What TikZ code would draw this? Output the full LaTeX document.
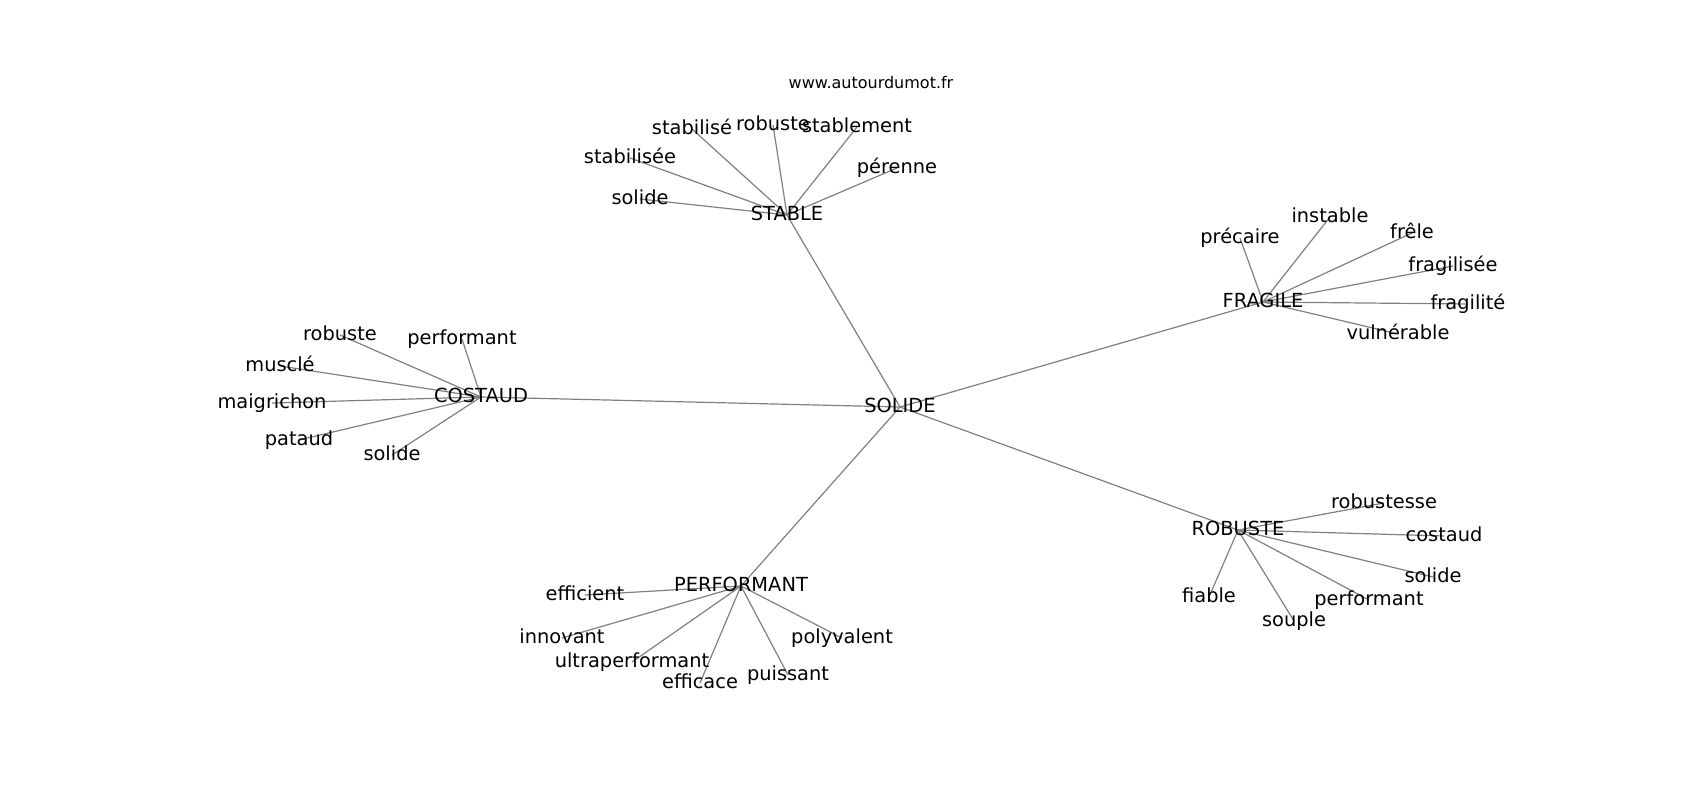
\documentclass[tikz,border=0pt]{standalone}
\usepackage{fontspec}
\setmainfont{DejaVu Sans}
\usetikzlibrary{backgrounds}
\tikzset{
  lbl/.style={inner sep=0pt, anchor=center, text height=1.4em, text depth=0.22em, font=\fontsize{19.4}{23}\selectfont, text=black},
  ttl/.style={inner sep=0pt, anchor=center, font=\fontsize{16}{19}\selectfont, text=black},
  edge/.style={draw=black!50, line width=1.2pt}
}
\begin{document}
\begin{tikzpicture}[x=1pt,y=-1pt]
\useasboundingbox (0,0) rectangle (1700,800);
\node[ttl] (title) at (871,83) {www.autourdumot.fr};
% hubs
\node[lbl] (SOLIDE) at (900,407) {SOLIDE};
\node[lbl] (STABLE) at (787,215) {STABLE};
\node[lbl] (FRAGILE) at (1263,302) {FRAGILE};
\node[lbl] (COSTAUD) at (481,397) {COSTAUD};
\node[lbl] (PERFORMANT) at (741,586) {PERFORMANT};
\node[lbl] (ROBUSTE) at (1238,530) {ROBUSTE};
% STABLE leaves
\node[lbl] (sa1) at (692,129) {stabilisé};
\node[lbl] (sa2) at (773,125) {robuste};
\node[lbl] (sa3) at (857,127) {stablement};
\node[lbl] (sa4) at (630,158) {stabilisée};
\node[lbl] (sa5) at (897,168) {pérenne};
\node[lbl] (sa6) at (640,199) {solide};
% FRAGILE leaves
\node[lbl] (fr1) at (1240,238) {précaire};
\node[lbl] (fr2) at (1330,217) {instable};
\node[lbl] (fr3) at (1412,233) {frêle};
\node[lbl] (fr4) at (1453,266) {fragilisée};
\node[lbl] (fr5) at (1468,304) {fragilité};
\node[lbl] (fr6) at (1398,334) {vulnérable};
% COSTAUD leaves
\node[lbl] (co1) at (340,335) {robuste};
\node[lbl] (co2) at (462,339) {performant};
\node[lbl] (co3) at (280,366) {musclé};
\node[lbl] (co4) at (272,403) {maigrichon};
\node[lbl] (co5) at (299,440) {pataud};
\node[lbl] (co6) at (392,455) {solide};
% PERFORMANT leaves
\node[lbl] (pe1) at (585,595) {efficient};
\node[lbl] (pe2) at (562,638) {innovant};
\node[lbl] (pe3) at (632,662) {ultraperformant};
\node[lbl] (pe4) at (700,683) {efficace};
\node[lbl] (pe5) at (788,675) {puissant};
\node[lbl] (pe6) at (842,638) {polyvalent};
% ROBUSTE leaves
\node[lbl] (ro1) at (1384,503) {robustesse};
\node[lbl] (ro2) at (1444,536) {costaud};
\node[lbl] (ro3) at (1433,577) {solide};
\node[lbl] (ro4) at (1369,600) {performant};
\node[lbl] (ro5) at (1294,621) {souple};
\node[lbl] (ro6) at (1209,597) {fiable};
\begin{scope}[on background layer]
\foreach \h in {STABLE,FRAGILE,COSTAUD,PERFORMANT,ROBUSTE}
  \draw[edge] (SOLIDE.center) -- (\h.center);
\foreach \l in {sa1,sa2,sa3,sa4,sa5,sa6}
  \draw[edge] (STABLE.center) -- (\l.center);
\foreach \l in {fr1,fr2,fr3,fr4,fr5,fr6}
  \draw[edge] (FRAGILE.center) -- (\l.center);
\foreach \l in {co1,co2,co3,co4,co5,co6}
  \draw[edge] (COSTAUD.center) -- (\l.center);
\foreach \l in {pe1,pe2,pe3,pe4,pe5,pe6}
  \draw[edge] (PERFORMANT.center) -- (\l.center);
\foreach \l in {ro1,ro2,ro3,ro4,ro5,ro6}
  \draw[edge] (ROBUSTE.center) -- (\l.center);
\end{scope}
\end{tikzpicture}
\end{document}
